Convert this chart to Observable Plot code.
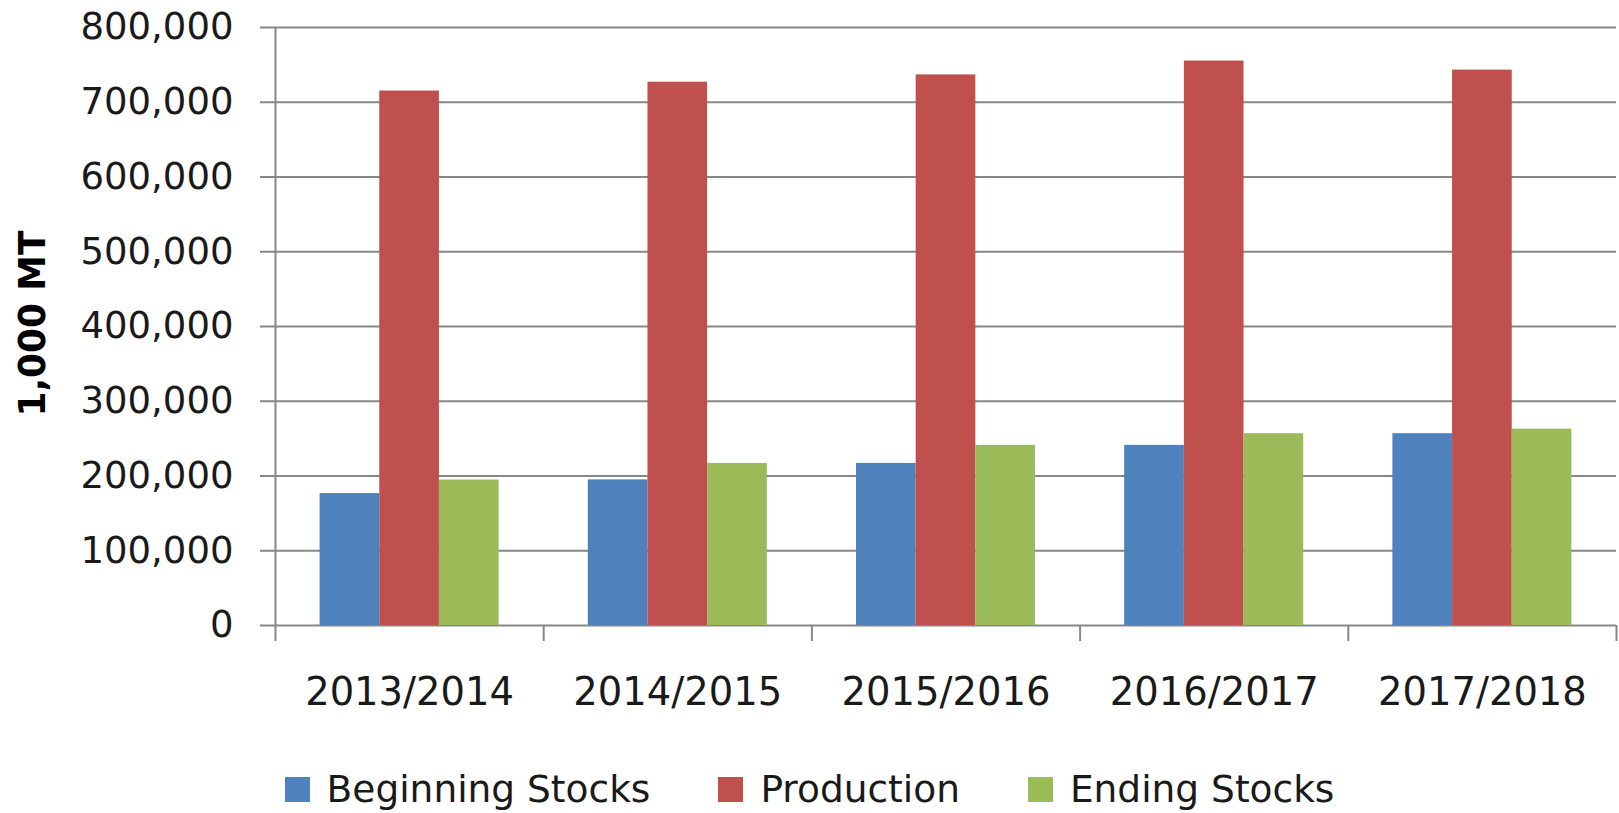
<!DOCTYPE html>
<html>
<head>
<meta charset="utf-8">
<script src="https://cdn.jsdelivr.net/npm/d3@7"></script>
<script src="https://cdn.jsdelivr.net/npm/@observablehq/plot@0.6"></script>
<style>
  html, body { margin: 0; padding: 0; background: #fff; }
  #chart svg { display: block; }
  #legend {
    display: flex; justify-content: center; align-items: center;
    height: 48px; font-family: "DejaVu Sans", sans-serif; font-size: 37.5px;
    color: #1a1a1a; white-space: nowrap;
  }
  #legend .item { display: inline-flex; align-items: center; margin-right: 68px; }
  #legend .item:last-child { margin-right: 0; }
  #legend .sw { width: 25px; height: 25px; margin-right: 17px; display: inline-block; }
</style>
</head>
<body>
<div id="chart"></div>
<div id="legend"></div>
<script>
// ---- data ----
const categories = ["2013/2014", "2014/2015", "2015/2016", "2016/2017", "2017/2018"];
const series = ["Beginning Stocks", "Production", "Ending Stocks"];
const beginningStocks = [176500, 194800, 216800, 241000, 256600];
const production = [715000, 726800, 736600, 755100, 743000];
const endingStocks = [194600, 216800, 241000, 256600, 262700];
const yTicks = [0, 100000, 200000, 300000, 400000, 500000, 600000, 700000, 800000];
const seriesColors = ["#4F81BD", "#C0504D", "#9BBB59"];
const yTitle = "1,000 MT";

// ---- build table ----
const seriesValues = [beginningStocks, production, endingStocks];
const barWidth = 0.2225; // in category units
const rows = [];
categories.forEach((c, i) => {
  series.forEach((s, k) => {
    const center = i + 1;
    rows.push({
      category: c,
      series: s,
      value: seriesValues[k][i],
      x1: center + (k - 1.5) * barWidth,
      x2: center + (k - 0.5) * barWidth
    });
  });
});
const catTicks = categories.map((c, i) => i + 1);
const dividerTicks = d3.range(categories.length + 1).map(i => i + 0.5);

const gray = "#878787";

const plot = Plot.plot({
  width: 1619,
  height: 765,
  marginLeft: 275,
  marginRight: 3,
  marginTop: 27,
  marginBottom: 140,
  style: { fontFamily: "DejaVu Sans, sans-serif", color: "#1a1a1a", background: "#fff" },
  x: { type: "linear", domain: [0.5, categories.length + 0.5] },
  y: { domain: [0, 800000] },
  color: { domain: series, range: seriesColors },
  marks: [
    Plot.gridY({ ticks: yTicks, stroke: gray, strokeOpacity: 1, strokeWidth: 2 }),
    Plot.rect(rows, { x1: "x1", x2: "x2", y1: 0, y2: "value", fill: "series" }),
    Plot.ruleX([0.5], { stroke: gray, strokeWidth: 2 }),
    Plot.axisY({
      ticks: yTicks, tickFormat: d3.format(","), tickSize: 15, tickPadding: 27,
      fontSize: 37, stroke: gray, strokeWidth: 2, label: null
    }),
    Plot.axisX({
      ticks: dividerTicks, tickSize: 16, tickFormat: () => "",
      stroke: gray, strokeWidth: 2, label: null
    }),
    Plot.axisX({
      ticks: catTicks, tickFormat: d => categories[d - 1], tickSize: 0, tickPadding: 52,
      fontSize: 38.5, label: null
    }),
    Plot.text([yTitle], {
      text: d => d, frameAnchor: "left", textAnchor: "middle", lineAnchor: "middle",
      rotate: -90, dx: -243, dy: -3,
      fontSize: 38, fontWeight: "bold", fill: "#000"
    })
  ]
});

// narrower bold face like the reference's
d3.select(plot).selectAll("text").filter(function () { return this.textContent === yTitle; })
  .attr("textLength", 186).attr("lengthAdjust", "spacingAndGlyphs");

document.getElementById("chart").appendChild(plot);

// ---- legend from the plot's color scale ----
const cs = plot.scale("color");
const lg = d3.select("#legend");
cs.domain.forEach((name, i) => {
  const item = lg.append("span").attr("class", "item");
  item.append("span").attr("class", "sw").style("background", cs.range[i]);
  item.append("span").text(name);
});
</script>
</body>
</html>
